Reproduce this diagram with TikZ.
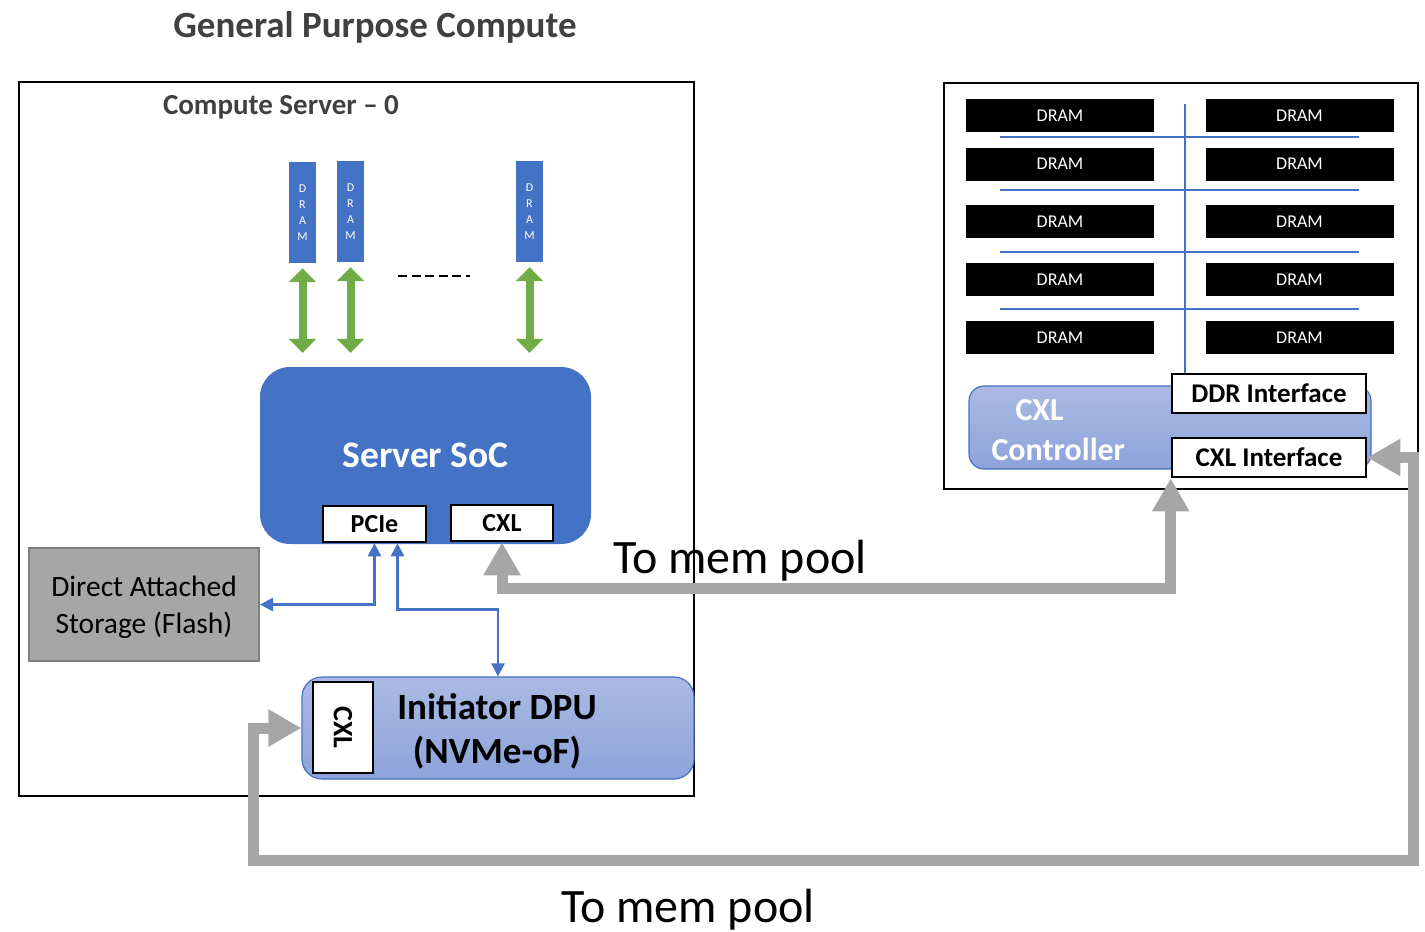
\documentclass[tikz,border=0pt]{standalone}
\usepackage{fontspec}
\setmainfont{Carlito}
\usetikzlibrary{arrows.meta}
\definecolor{socblue}{HTML}{4472C4}
\definecolor{armgreen}{HTML}{70AD47}
\definecolor{pipegray}{HTML}{A6A6A6}
\definecolor{dasedge}{HTML}{7F7F7F}
\definecolor{titlegray}{HTML}{404040}
\definecolor{ctrltop}{HTML}{ABBAE3}
\definecolor{ctrlbot}{HTML}{8CA3DA}
\newcommand{\fsz}[1]{\fontsize{#1}{1.2\dimexpr#1pt\relax}\selectfont}
\begin{document}
\begin{tikzpicture}[x=1pt, y=-1pt,
    frame/.style={draw, line width=2pt, inner sep=0pt},
    dramstick/.style={fill=socblue, inner sep=0pt, minimum width=27pt, minimum height=101pt,
      text=white, align=center, font=\fontsize{12}{16}\selectfont},
    dramchip/.style={fill=black, inner sep=0pt, minimum width=188pt, minimum height=33pt,
      text=white, font=\fsz{18}},
    port/.style={draw, fill=white, line width=2.5pt, inner sep=0pt, font=\bfseries\fsz{26}},
    ctrlbox/.style={draw=socblue, line width=1.2pt, top color=ctrltop, bottom color=ctrlbot, inner sep=0pt},
    greenarrow/.style={armgreen, line width=8pt,
      {Triangle[width=27pt,length=14pt]}-{Triangle[width=27pt,length=14pt]}},
    busarrow/.style={socblue, line width=2.5pt,
      {Triangle[width=13pt,length=13pt]}-{Triangle[width=13pt,length=13pt]}},
    pipe/.style={pipegray, line width=11pt,
      {Triangle[width=35pt,length=33pt]}-{Triangle[width=35pt,length=33pt]}},
    bus/.style={socblue, line width=2pt}]
  \useasboundingbox (0,0) rectangle (1425,932);
  % titles
  \node[font=\bfseries\fsz{37}, text=titlegray] (title) at (375,27) {General Purpose Compute};
  % compute server
  \node[frame, minimum width=675pt, minimum height=714pt] (server) at (356.5,439) {};
  \node[font=\bfseries\fsz{29}, text=titlegray] (srvlabel) at (281,107) {Compute Server – 0};
  % dram sticks
  \node[dramstick] (d1) at (302.5,212.5) {D\\R\\A\\M};
  \node[dramstick] (d2) at (350.5,211.5) {D\\R\\A\\M};
  \node[dramstick] (d3) at (529.5,211.5) {D\\R\\A\\M};
  \coordinate (gap-l) at (398,276);
  \coordinate (gap-r) at (470,276);
  \draw[line width=2pt, dash pattern=on 9pt off 4.5pt] (gap-l) -- (gap-r);
  % soc
  \node[fill=socblue, rounded corners=30pt, minimum width=331pt, minimum height=177pt,
    text=white, font=\bfseries\fsz{37.5}] (soc) at (425.5,455.5) {\raisebox{-2pt}{Server SoC}};
  \node[port, minimum width=103pt, minimum height=36pt] (pcie) at (374.5,524) {PCIe};
  \node[port, minimum width=102pt, minimum height=36pt] (cxl) at (502,523) {CXL};
  \foreach \d in {d1,d2,d3}
    \draw[greenarrow, shorten <=5pt, shorten >=14pt] (\d.south) -- (\d.south |- soc.north);
  % storage
  \node[fill=pipegray, draw=dasedge, line width=2pt, minimum width=230pt, minimum height=113pt] (das) at (144,604.5) {};
  \node[align=center, font=\fontsize{29.5}{37}\selectfont] (daslabel) at (144,607.5) {Direct Attached\\Storage (Flash)};
  % dpu
  \node[ctrlbox, rounded corners=20pt, minimum width=392pt, minimum height=102pt] (dpu) at (498,728) {};
  \node[port, rotate=-90, minimum width=91pt, minimum height=60pt, font=\bfseries\fsz{28}] (dpucxl) at (343,727.5) {CXL};
  \node[font=\bfseries\fontsize{37}{44}\selectfont, align=center] (dpulabel) at (497,731) {Initiator DPU\\(NVMe-oF)};
  % pcie links
  \draw[busarrow] (pcie.south) |- (das.east);
  \draw[busarrow] ([xshift=23pt]pcie.south) -- ++(0,66) -| (dpu.north);
  % memory pool
  \node[frame, minimum width=474pt, minimum height=406pt] (pool) at (1181,286) {};
  \foreach \y [count=\i] in {115.5,164,221.5,279.5,337.5} {
    \node[dramchip] (dl\i) at (1060,\y) {\raisebox{-1.5pt}{DRAM}};
    \node[dramchip] (dr\i) at (1299.5,\y) {\raisebox{-1.5pt}{DRAM}};
  }
  \node[ctrlbox, rounded corners=15pt, minimum width=402pt, minimum height=83pt] (ctrl) at (1170,427.5) {};
  \node[anchor=west, align=left, text=white, font=\bfseries\fontsize{32}{40}\selectfont] (ctrllabel) at (988,430)
    {\hspace*{24pt}CXL\\Controller};
  \node[port, minimum width=194pt, minimum height=39pt, font=\bfseries\fsz{27}] (ddr) at (1269,393.5) {DDR Interface};
  \node[port, minimum width=194pt, minimum height=39pt, font=\bfseries\fsz{27}] (cxlif) at (1269,457.5) {CXL Interface};
  % bus lines
  \coordinate (bus-top) at (1185,104);
  \draw[bus] (bus-top) -- (bus-top |- ddr.north);
  \foreach \y in {137,190,252,309}
    \draw[bus] (1000,\y) -- (1359,\y);
  % cxl pipes
  \coordinate (r1) at (1413,860);
  \coordinate (l1) at (253,860);
  \draw[pipe] (cxl.south) -- ++(0,46) -| (cxlif.south west);
  \draw[pipe] (cxlif.east) -| (r1) -- (l1) |- (dpu.west);
  \node[font=\fsz{48}] (poolA) at (740,561) {To mem pool};
  \node[font=\fsz{48}] (poolB) at (688,910) {To mem pool};
\end{tikzpicture}
\end{document}
